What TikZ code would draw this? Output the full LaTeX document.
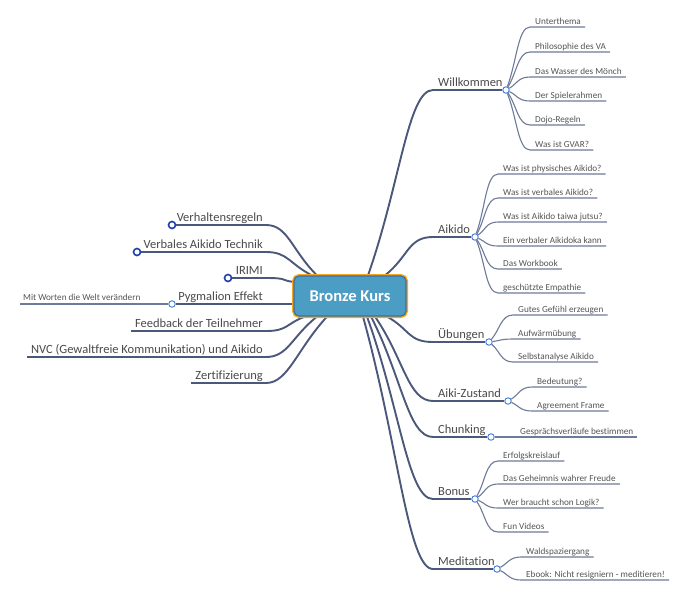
\documentclass[tikz,border=0pt]{standalone}
\usepackage{fontspec}
\setmainfont{Carlito}[Ligatures={NoCommon}]
\usetikzlibrary{calc,backgrounds}
\pgfdeclarelayer{bottom}
\pgfsetlayers{bottom,background,main}
\definecolor{linec}{HTML}{4B587A}
\definecolor{kidc}{HTML}{6E7A99}
\definecolor{txtc}{HTML}{4A4A4A}
\definecolor{subc}{HTML}{555555}
\definecolor{dotc}{HTML}{3C78D8}
\definecolor{dotd}{HTML}{1F3FA8}
\definecolor{cfill}{HTML}{4C9DC4}
\definecolor{cinner}{HTML}{3D6E99}
\definecolor{corange}{HTML}{F5A623}
\newcommand\mmkid[5]{%
  \node[sub] (#1) at (#3+5,#4-3) {#5};
  \begin{scope}[on background layer]
    \draw[kidline] (#2) to[kidto] (#3,#4) -- ($(#1.base east)+(4,3)$);
  \end{scope}}
\begin{document}
\begin{tikzpicture}[x=1pt,y=-1pt,
  main/.style={font=\fontsize{12.5}{14}\selectfont, text=txtc, inner sep=0pt},
  sub/.style={font=\fontsize{9.2}{11}\selectfont, text=subc, inner sep=0pt, anchor=base west},
  branch/.style={draw=linec, line width=1.9pt, line cap=round},
  uline/.style={draw=linec, line width=1.3pt},
  kidline/.style={draw=kidc, line width=1.1pt},
  dotr/.style={circle, draw=dotc, fill=white, line width=0.9pt, minimum size=6.5pt, inner sep=0pt},
  dotl/.style={circle, draw=dotd, fill=white, line width=1.6pt, minimum size=7pt, inner sep=0pt},
  mainto/.style={to path={.. controls ($(\tikztostart)!0.5!(\tikztotarget)$) and ($(\tikztotarget)+(-25,0)$) .. (\tikztotarget)}},
  kidto/.style={to path={.. controls ($(\tikztostart)!0.45!(\tikztotarget)$) and ($(\tikztotarget)+(-12,0)$) .. (\tikztotarget)}},
  leftto/.style={to path={.. controls ($(\tikztostart)+(22,0)$) and ($(\tikztostart)!0.5!(\tikztotarget)$) .. (\tikztotarget)}},
]
\useasboundingbox (0,0) rectangle (700,600);
\begin{pgfonlayer}{bottom}
  \fill[white] (0,0) rectangle (700,600);
\end{pgfonlayer}

% central node
\node[draw=cinner, line width=1.2pt, fill=cfill, rounded corners=5pt,
      minimum width=112pt, minimum height=40pt,
      preaction={draw=corange, line width=4pt},
      font=\bfseries\fontsize{16.5}{18}\selectfont, text=white] (c) at (350,296) {Bronze Kurs};

% anchor points on the central node
\coordinate (c-willk) at ([xshift=18pt]c.north);
\coordinate (c-aik) at ([xshift=35pt]c.north);
\coordinate (c-ueb) at ([xshift=37pt]c.south);
\coordinate (c-zust) at ([xshift=25pt]c.south);
\coordinate (c-chunk) at ([xshift=21pt]c.south);
\coordinate (c-bon) at ([xshift=17pt]c.south);
\coordinate (c-med) at ([xshift=13pt]c.south);
\coordinate (c-verh) at ([xshift=-33pt]c.north);
\coordinate (c-verb) at ([xshift=-38pt]c.north);
\coordinate (c-iri) at ([yshift=14pt]c.west);
\coordinate (c-pyg) at ([yshift=-8pt]c.west);
\coordinate (c-feed) at ([xshift=-45pt]c.south);
\coordinate (c-nvc) at ([xshift=-33pt]c.south);
\coordinate (c-zert) at ([xshift=-23pt]c.south);

% ---------- right main topics ----------
\node[main, anchor=base west] (willk) at (438,86) {Willkommen};
\coordinate (willk-s) at (433,90);
\node[dotr] (willk-o) at (506,90) {};
\node[main, anchor=base west] (aik) at (438,233) {Aikido};
\coordinate (aik-s) at (433,237);
\node[dotr] (aik-o) at (475,237) {};
\node[main, anchor=base west] (ueb) at (438,338) {Übungen};
\coordinate (ueb-s) at (433,342);
\node[dotr] (ueb-o) at (489,342) {};
\node[main, anchor=base west] (zust) at (438,397) {Aiki-Zustand};
\coordinate (zust-s) at (433,401);
\node[dotr] (zust-o) at (508,401) {};
\node[main, anchor=base west] (chunk) at (438,433) {Chunking};
\coordinate (chunk-s) at (433,437);
\node[dotr] (chunk-o) at (491,437) {};
\node[main, anchor=base west] (bon) at (438,495) {Bonus};
\coordinate (bon-s) at (433,499);
\node[dotr] (bon-o) at (475,499) {};
\node[main, anchor=base west] (med) at (438,565) {Meditation};
\coordinate (med-s) at (433,569);
\node[dotr] (med-o) at (497,569) {};

\begin{scope}[on background layer]
  \foreach \n in {willk,aik,ueb,zust,chunk,bon,med}{
    \draw[branch] (c-\n) to[mainto] (\n-s);
    \draw[uline] (\n-s) -- (\n-o);
  }
\end{scope}

% ---------- children right ----------
\mmkid{w1}{willk-o}{530}{27}{Unterthema}
\mmkid{w2}{willk-o}{530}{52}{Philosophie des VA}
\mmkid{w3}{willk-o}{530}{77}{Das Wasser des Mönch}
\mmkid{w4}{willk-o}{530}{101}{Der Spielerahmen}
\mmkid{w5}{willk-o}{530}{125}{Dojo-Regeln}
\mmkid{w6}{willk-o}{530}{150}{Was ist GVAR?}

\mmkid{a1}{aik-o}{498}{174}{Was ist physisches Aikido?}
\mmkid{a2}{aik-o}{498}{198}{Was ist verbales Aikido?}
\mmkid{a3}{aik-o}{498}{222}{Was ist Aikido taiwa jutsu?}
\mmkid{a4}{aik-o}{498}{246}{Ein verbaler Aikidoka kann}
\mmkid{a5}{aik-o}{498}{269}{Das Workbook}
\mmkid{a6}{aik-o}{498}{293}{geschützte Empathie}

\mmkid{u1}{ueb-o}{513}{315}{Gutes Gefühl erzeugen}
\mmkid{u2}{ueb-o}{513}{339}{Aufwärmübung}
\mmkid{u3}{ueb-o}{513}{362}{Selbstanalyse Aikido}

\mmkid{z1}{zust-o}{532}{387}{Bedeutung?}
\mmkid{z2}{zust-o}{532}{411}{Agreement Frame}

\mmkid{k1}{chunk-o}{515}{437}{Gesprächsverläufe bestimmen}

\mmkid{b1}{bon-o}{498}{461}{Erfolgskreislauf}
\mmkid{b2}{bon-o}{498}{484}{Das Geheimnis wahrer Freude}
\mmkid{b3}{bon-o}{498}{508}{Wer braucht schon Logik?}
\mmkid{b4}{bon-o}{498}{532}{Fun Videos}

\mmkid{m1}{med-o}{521}{557}{Waldspaziergang}
\mmkid{m2}{med-o}{521}{580}{Ebook: Nicht resigniern - meditieren!}

% ---------- left main topics ----------
\node[main, anchor=base east] (verh) at (263,221) {Verhaltensregeln};
\node[dotl] (verh-o) at (172,225) {};
\coordinate (verh-e) at (266,225);
\node[main, anchor=base east] (verb) at (263,248) {Verbales Aikido Technik};
\node[dotl] (verb-o) at (137,252) {};
\coordinate (verb-e) at (266,252);
\node[main, anchor=base east] (iri) at (263,274) {IRIMI};
\node[dotl] (iri-o) at (228,278) {};
\coordinate (iri-e) at (266,278);
\node[main, anchor=base east] (pyg) at (263,300) {Pygmalion Effekt};
\node[dotr] (pyg-o) at (172,304) {};
\coordinate (pyg-e) at (266,304);
\node[main, anchor=base east] (feed) at (263,327) {Feedback der Teilnehmer};
\coordinate (feed-e) at (266,331);
\node[main, anchor=base east] (nvc) at (263,353) {NVC (Gewaltfreie Kommunikation) und Aikido};
\coordinate (nvc-e) at (266,357);
\node[main, anchor=base east] (zert) at (263,379) {Zertifizierung};
\coordinate (zert-e) at (266,383);

\node[sub] (mit) at (23,300) {Mit Worten die Welt verändern};
\coordinate (mit-s) at (20,304);

\begin{scope}[on background layer]
  \foreach \n in {verh,verb,iri,feed,nvc,zert}{
    \draw[branch] (\n-e) to[leftto] (c-\n);
  }
  \draw[branch] (pyg-e) -- (c-pyg);
  \foreach \n in {verh,verb,iri,pyg}{
    \draw[uline] (\n-o) -- (\n-e);
  }
  \foreach \n in {feed,nvc,zert}{
    \draw[uline] ($(\n.base west)+(-4,4)$) -- (\n-e);
  }
  \draw[kidline] (pyg-o) -- (mit-s);
\end{scope}
\end{tikzpicture}
\end{document}
